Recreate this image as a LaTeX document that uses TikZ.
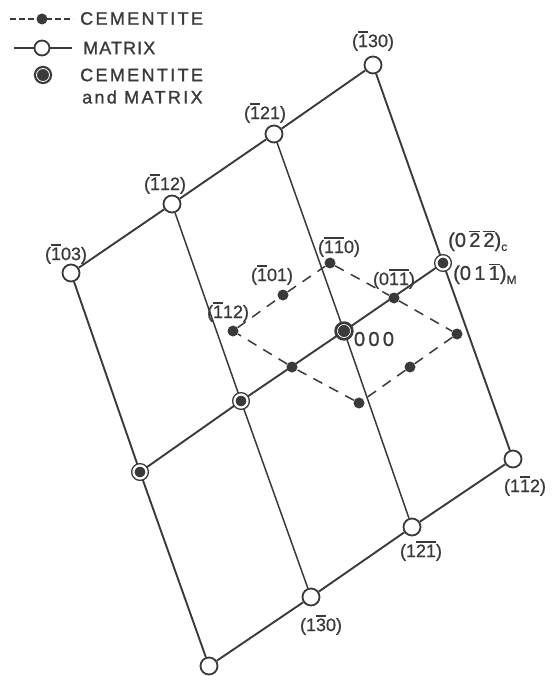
\documentclass[tikz,border=0pt]{standalone}
\usepackage{fontspec}
\setmainfont[FakeBold=0.9]{Liberation Sans}
\newfontfamily\legendfont[LetterSpace=13,FakeBold=1.2]{Liberation Sans}
\newfontfamily\legendtight[LetterSpace=6,FakeBold=1.2]{Liberation Sans}
\usetikzlibrary{backgrounds}
\definecolor{ink}{HTML}{3A3A3A}
\newcommand{\nb}[1]{{\setbox0\hbox{#1}\rlap{\raisebox{14.5pt}{\rule{\wd0}{1.4pt}}}\box0}}
\newcommand{\sbs}[1]{\raisebox{-4pt}{\fontsize{12}{12}\selectfont #1}}

\begin{document}
\begin{tikzpicture}[
  x=1pt, y=-1pt,
  font=\fontsize{18}{18}\selectfont, text=ink,
  matrixpt/.style={circle,draw=ink,fill=white,line width=1.8pt,inner sep=0pt,minimum size=17pt},
  cementpt/.style={circle,fill=ink,inner sep=0pt,minimum size=11pt},
  bothpt/.style={circle,draw=ink,fill=ink,line width=1.4pt,double=white,double distance=2.2pt,inner sep=0pt,minimum size=13pt},
  lbl/.style={inner sep=0pt},
  biglbl/.style={lbl,anchor=west,font=\fontsize{20}{20}\selectfont},
  legend/.style={inner sep=0pt,anchor=west,font=\fontsize{18}{18}\legendfont},
  solidln/.style={ink,line width=1.9pt},
  thinln/.style={ink,line width=1.5pt},
  dashln/.style={ink,line width=1.5pt,dash pattern=on 10pt off 8pt}
]
\useasboundingbox (0,0) rectangle (551,676);

% ==================== LEGEND ====================
\coordinate (leg_c_a) at (10,19);
\coordinate (leg_c_b) at (73,19);
\coordinate (leg_m_a) at (14,48);
\coordinate (leg_m_b) at (72,48);
\draw[ink,line width=2pt,dash pattern=on 6pt off 3pt] (leg_c_a) -- (leg_c_b);
\draw[solidln] (leg_m_a) -- (leg_m_b);
\node[cementpt] (leg_c) at (42,19) {};
\node[matrixpt, minimum size=15pt] (leg_m) at (42,48) {};
\node[bothpt, line width=2.2pt, double distance=0.8pt, minimum size=13pt] (leg_b) at (43,75) {};
\node[legend] (leg_c_t) at (80,18.5) {CEMENTITE};
\node[legend, font=\fontsize{18}{18}\legendtight] (leg_m_t) at (83,48) {MATRIX};
\node[legend] (leg_b_t) at (80,75) {CEMENTITE};
\node[legend] (leg_b_u) at (82,97) {and MATRIX};

% ==================== MATRIX NET ====================
\node[matrixpt] (m103) at (71,273) {};
\node[matrixpt] (m112) at (172,204) {};
\node[matrixpt] (m121) at (274,134) {};
\node[matrixpt] (m130) at (373,65) {};
\node[bothpt] (b1) at (140,472) {};
\node[bothpt] (b2) at (241,401) {};
\node[bothpt, line width=2.8pt, double distance=0.7pt] (b0) at (344,331) {};
\node[bothpt] (b3) at (443,263) {};
\node[matrixpt] (n0) at (209,666) {};
\node[matrixpt] (n130) at (311,597) {};
\node[matrixpt] (n121) at (412,527) {};
\node[matrixpt] (n112) at (513,459) {};

\begin{scope}[on background layer]
  \draw[solidln] (m103) -- (m112) -- (m121) -- (m130);
  \draw[solidln] (b1) -- (b2) -- (b0) -- (b3);
  \draw[solidln] (n0) -- (n130) -- (n121) -- (n112);
  \draw[solidln] (m103) -- (b1) -- (n0);
  \draw[thinln] (m112) -- (b2) -- (n130);
  \draw[thinln] (m121) -- (b0) -- (n121);
  \draw[solidln] (m130) -- (b3) -- (n112);
\end{scope}

% ==================== CEMENTITE NET ====================
\node[cementpt] (c112) at (233,331) {};
\node[cementpt] (c101) at (283,295) {};
\node[cementpt] (c110) at (330,263) {};
\node[cementpt] (c011) at (394,298) {};
\node[cementpt] (cr) at (457,334) {};
\node[cementpt] (crb) at (410,367) {};
\node[cementpt] (cb) at (359,403) {};
\node[cementpt] (clb) at (292,367) {};

\begin{scope}[on background layer]
  \draw[dashln] (c112) -- (c101);
  \draw[dashln] (c101) -- (c110);
  \draw[dashln] (c110) -- (c011);
  \draw[dashln] (c011) -- (cr);
  \draw[dashln] (cr) -- (crb);
  \draw[dashln] (crb) -- (cb);
  \draw[dashln] (cb) -- (clb);
  \draw[dashln] (clb) -- (c112);
\end{scope}

% ==================== LABELS ====================
\node[lbl] (t130) at (373,41) {(\nb{1}30)};
\node[lbl] (t121) at (265,113) {(\nb{1}21)};
\node[lbl] (t112) at (165,184) {(\nb{1}12)};
\node[lbl] (t103) at (66,254) {(\nb{1}03)};
\node[lbl] (t110) at (339,247) {(\nb{1}\nb{1}0)};
\node[lbl] (t101) at (272,275) {(\nb{1}01)};
\node[lbl] (tc112) at (228,312) {(\nb{1}12)};
\node[lbl] (t011) at (394,279) {(0\nb{1}\nb{1})};
\node[lbl, font=\fontsize{20}{20}\selectfont] (t000) at (374,339) {0\,0\,0};
\node[biglbl] (t022) at (448,241) {(0\,\nb{2}\kern3pt\nb{2})\sbs{c}};
\node[biglbl] (t011m) at (453,274) {(0\,1\,\nb{1})\sbs{M}};
\node[lbl] (n112t) at (525,486) {(1\nb{1}2)};
\node[lbl] (n121t) at (421,551) {(1\nb{2}\nb{1})};
\node[lbl] (n130t) at (321,625) {(1\nb{3}0)};

\end{tikzpicture}
\end{document}
